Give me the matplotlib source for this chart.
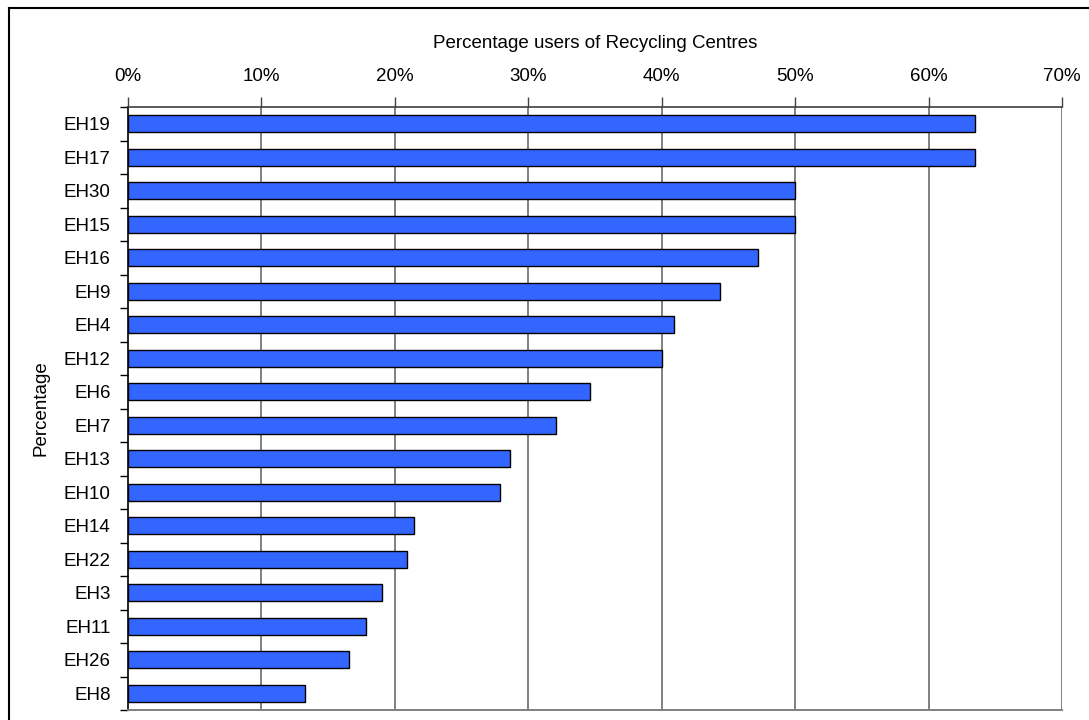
import matplotlib
matplotlib.use("Agg")
import matplotlib.pyplot as plt
from matplotlib.lines import Line2D
from matplotlib.ticker import FixedLocator, FuncFormatter

plt.rcParams['font.family'] = ['Liberation Sans', 'DejaVu Sans']

# Share of residents using recycling centres, by postcode district
districts = ["EH19", "EH17", "EH30", "EH15", "EH16", "EH9", "EH4", "EH12", "EH6",
             "EH7", "EH13", "EH10", "EH14", "EH22", "EH3", "EH11", "EH26", "EH8"]
users_pct = [63.5, 63.5, 50.0, 50.0, 47.2, 44.4, 40.9, 40.0, 34.6,
             32.1, 28.6, 27.9, 21.4, 20.9, 19.0, 17.8, 16.6, 13.3]
x_ticks = [0, 10, 20, 30, 40, 50, 60, 70]

FS = 13.5
W, H = 1089, 720
fig = plt.figure(figsize=(W / 100, H / 100), dpi=100)
ax = fig.add_axes([128 / W, 10 / H, (1062 - 128) / W, (710 - 107) / H])

pos = list(range(len(districts)))
ax.barh(pos, users_pct, height=0.52, color="#3366FF", edgecolor="black",
        linewidth=1.0, zorder=3)

ax.set_xlim(0, 70)
ax.set_ylim(len(districts) - 0.5, -0.5)

# x axis on top with percentage labels
ax.xaxis.tick_top()
ax.xaxis.set_label_position("top")
ax.set_xticks(x_ticks)
ax.xaxis.set_major_formatter(FuncFormatter(lambda v, p: f"{int(v)}%"))
ax.tick_params(axis="x", which="major", direction="out", length=7, width=1,
               color="#404040", pad=8.5, labelsize=FS)
ax.set_xlabel("Percentage users of Recycling Centres", fontsize=FS, labelpad=15)

# category labels centred, ticks at category boundaries
ax.set_yticks(pos)
ax.set_yticklabels(districts)
ax.tick_params(axis="y", which="major", length=0, pad=12.5, labelsize=FS)
ax.yaxis.set_minor_locator(FixedLocator([p - 0.5 for p in pos] + [len(pos) - 0.5]))
ax.tick_params(axis="y", which="minor", direction="out", length=6, width=1, color="black")
ax.set_ylabel("Percentage", fontsize=FS, labelpad=10)

# vertical gridlines
for v in x_ticks[1:]:
    ax.axvline(v, color="#808080", linewidth=1.4, zorder=1)

ax.spines["right"].set_visible(False)
ax.spines["left"].set_color("black")
ax.spines["left"].set_linewidth(1.2)
ax.spines["top"].set_color("#404040")
ax.spines["top"].set_linewidth(1.2)
ax.spines["bottom"].set_color("#808080")
ax.spines["bottom"].set_linewidth(1.4)

# chart border
fig.add_artist(Line2D([8.5 / W, 8.5 / W], [0, 1 - 7.5 / H], transform=fig.transFigure,
                      color="black", linewidth=1.5))
fig.add_artist(Line2D([8.5 / W, 1], [1 - 7.5 / H, 1 - 7.5 / H], transform=fig.transFigure,
                      color="black", linewidth=1.5))

fig.savefig("out.png", dpi=100)
